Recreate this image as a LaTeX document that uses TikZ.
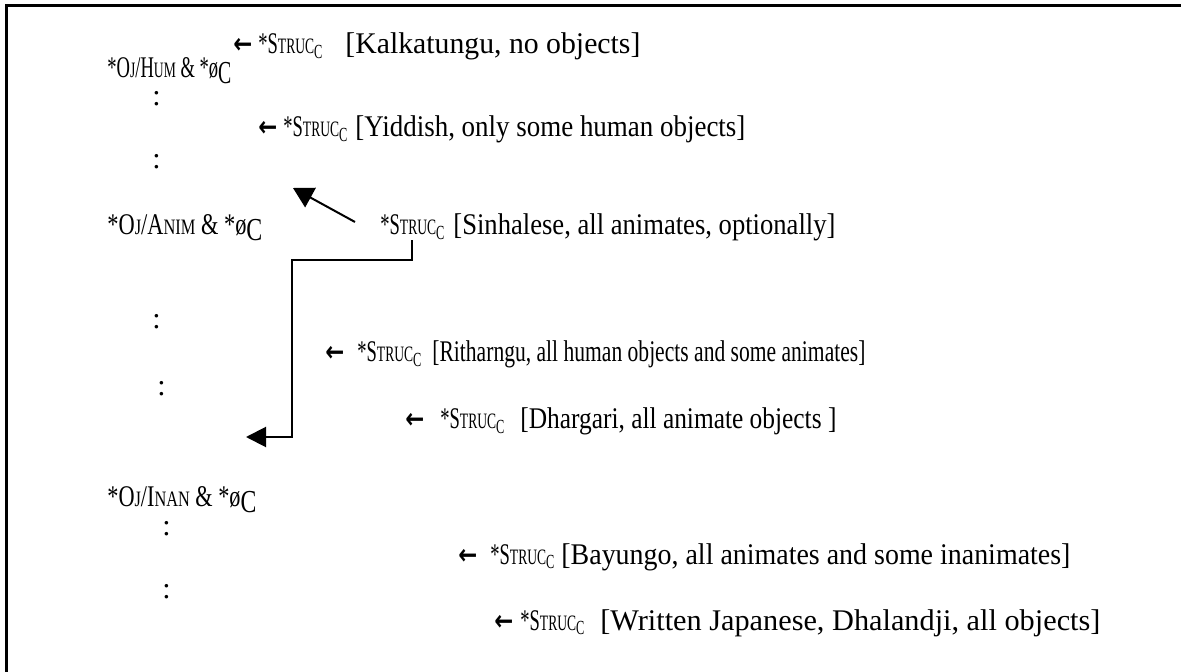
\documentclass[tikz,border=0pt]{standalone}
\usepackage{fontspec}
\usepackage{graphicx}
\setmainfont{Liberation Serif}
\newfontfamily\arrfont{DejaVu Sans}
\usetikzlibrary{arrows.meta}
\newcommand{\sca}[1]{{\fontsize{11}{11}\selectfont #1}}
\newcommand{\arr}{\resizebox{9.5pt}{\height}{\arrfont\bfseries\fontsize{14}{14}\selectfont ←}}
\newcommand{\struc}{\resizebox{32pt}{\height}{*S\sca{TRUC}\raisebox{-0.35ex}{\fontsize{10}{10}\selectfont C}}}
\newcommand{\zc}{*ø\raisebox{-0.4ex}{\fontsize{16}{16}\selectfont C}}
\newcommand{\fitw}[2]{\resizebox{#1pt}{\height}{#2}}
\begin{document}
\begin{tikzpicture}[x=0.5pt,y=-0.5pt,
  txt/.style={anchor=base west,inner sep=0pt,font=\fontsize{15}{18}\selectfont},
  conn/.style={line width=1pt},
  bighead/.style={-{Triangle[length=10pt,width=11pt]}}]
\useasboundingbox (0,0) rectangle (1181,672);
\draw[line width=1.5pt] (6,672) -- (6,6) -- (1181,6);
% line 1
\node[txt] (a1) at (233,54) {\arr};
\node[txt] (s1) at (258,54) {\struc};
\node[txt] (b1) at (345,54) {\fitw{147.5}{[Kalkatungu, no objects]}};
\node[txt] (hum) at (107,78) {\fitw{62}{*O\sca{J}/H\sca{UM} \& \zc}};
\node[txt] (c1) at (152,106) {:};
% line 2
\node[txt] (a2) at (258,137) {\arr};
\node[txt] (s2) at (283,137) {\struc};
\node[txt] (b2) at (355,137) {\fitw{195}{[Yiddish, only some human objects]}};
\node[txt] (c2) at (152,169) {:};
% line 3
\node[txt] (anim) at (107,235) {\fitw{77.5}{*O\sca{J}/A\sca{NIM} \& \zc}};
\node[txt] (s3) at (380,235) {\struc};
\node[txt] (b3) at (453,235) {\fitw{191}{[Sinhalese, all animates, optionally]}};
\node[txt] (c3) at (152,329) {:};
% line 4
\node[txt] (a4) at (325,362) {\arr};
\node[txt] (s4) at (357,362) {\struc};
\node[txt] (b4) at (432,362) {\fitw{216.5}{[Ritharngu, all human objects and some animates]}};
\node[txt] (c4) at (157,396) {:};
% line 5
\node[txt] (a5) at (405,429) {\arr};
\node[txt] (s5) at (440,429) {\struc};
\node[txt] (b5) at (520,429) {\fitw{158}{[Dhargari, all animate objects ]}};
% inan
\node[txt] (inan) at (107,507) {\fitw{74.5}{*O\sca{J}/I\sca{NAN} \& \zc}};
\node[txt] (c5) at (162,535) {:};
% line 6
\node[txt] (a6) at (458,564) {\arr};
\node[txt] (s6) at (490,564) {\struc};
\node[txt] (b6) at (561,564) {\fitw{254.5}{[Bayungo, all animates and some inanimates]}};
\node[txt] (c6) at (162,598) {:};
% line 7
\node[txt] (a7) at (494,630) {\arr};
\node[txt] (s7) at (520,630) {\struc};
\node[txt] (b7) at (600,630) {\fitw{250}{[Written Japanese, Dhalandji, all objects]}};
% connectors
\coordinate (p0) at (355,222);
\coordinate (t1) at (293,188);
\draw[conn,bighead] (p0) -- (t1);
\coordinate (k1) at (292,260);
\coordinate (k2) at (292,437);
\coordinate (t2) at (246,437);
\draw[conn,-{Triangle[length=10pt,width=10pt]}] (s3.south) -- (s3.south |- k1) -- (k1) -- (k2) -- (t2);
\end{tikzpicture}
\end{document}
